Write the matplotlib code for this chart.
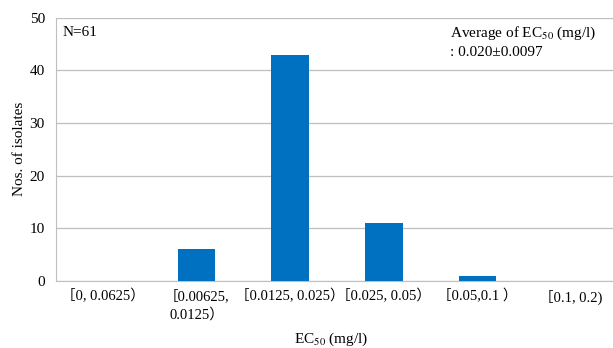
import matplotlib.pyplot as plt
import numpy as np

categories = ['［0, 0.0625）', '［0.00625,\n0.0125）', '［0.0125, 0.025）',
              '［0.025, 0.05）', '［0.05,0.1 ）', '［0.1, 0.2)']
counts = [0, 6, 43, 11, 1, 0]

plt.rcParams['font.family'] = ['Liberation Serif', 'Noto Sans CJK JP']
plt.rcParams['font.size'] = 11
plt.rcParams['mathtext.fontset'] = 'stix'

fig = plt.figure(figsize=(6.13, 3.48), dpi=100)
# plot area runs past the right edge of the figure, as in the reference
ax = fig.add_axes([56 / 613, 67 / 348, 562 / 613, 263.3 / 348])

x = np.arange(len(categories))
ax.bar(x, counts, width=0.4, color='#0070C0', zorder=3)

ax.set_ylim(0, 50)
ax.set_xlim(-0.5, len(categories) - 0.5)
ax.set_yticks(np.arange(0, 51, 10))
ax.set_xticks(x)
ax.set_xticklabels(categories, va='top', linespacing=1.45, fontsize=10.5)
ax.grid(axis='y', color='#BFBFBF', linewidth=0.9, zorder=0)
ax.tick_params(axis='x', length=0, pad=6)
ax.tick_params(axis='y', length=0, pad=8)
for s in ['top', 'right']:
    ax.spines[s].set_visible(False)
for s in ['left', 'bottom']:
    ax.spines[s].set_color('#BFBFBF')

ax.set_ylabel('Nos. of isolates')
ax.yaxis.set_label_coords(-0.053, 0.5)
ax.set_xlabel('EC$_{50}$ (mg/l)')
ax.xaxis.set_label_coords(0.49, -0.188)

ax.text(0.0125, 0.942, 'N=61', transform=ax.transAxes, va='center')
ax.text(0.701, 0.942, 'Average of EC$_{50}$ (mg/l)', transform=ax.transAxes, va='center')
ax.text(0.701, 0.866, ': 0.020±0.0097', transform=ax.transAxes, va='center')

plt.savefig('out.png', dpi=100)
